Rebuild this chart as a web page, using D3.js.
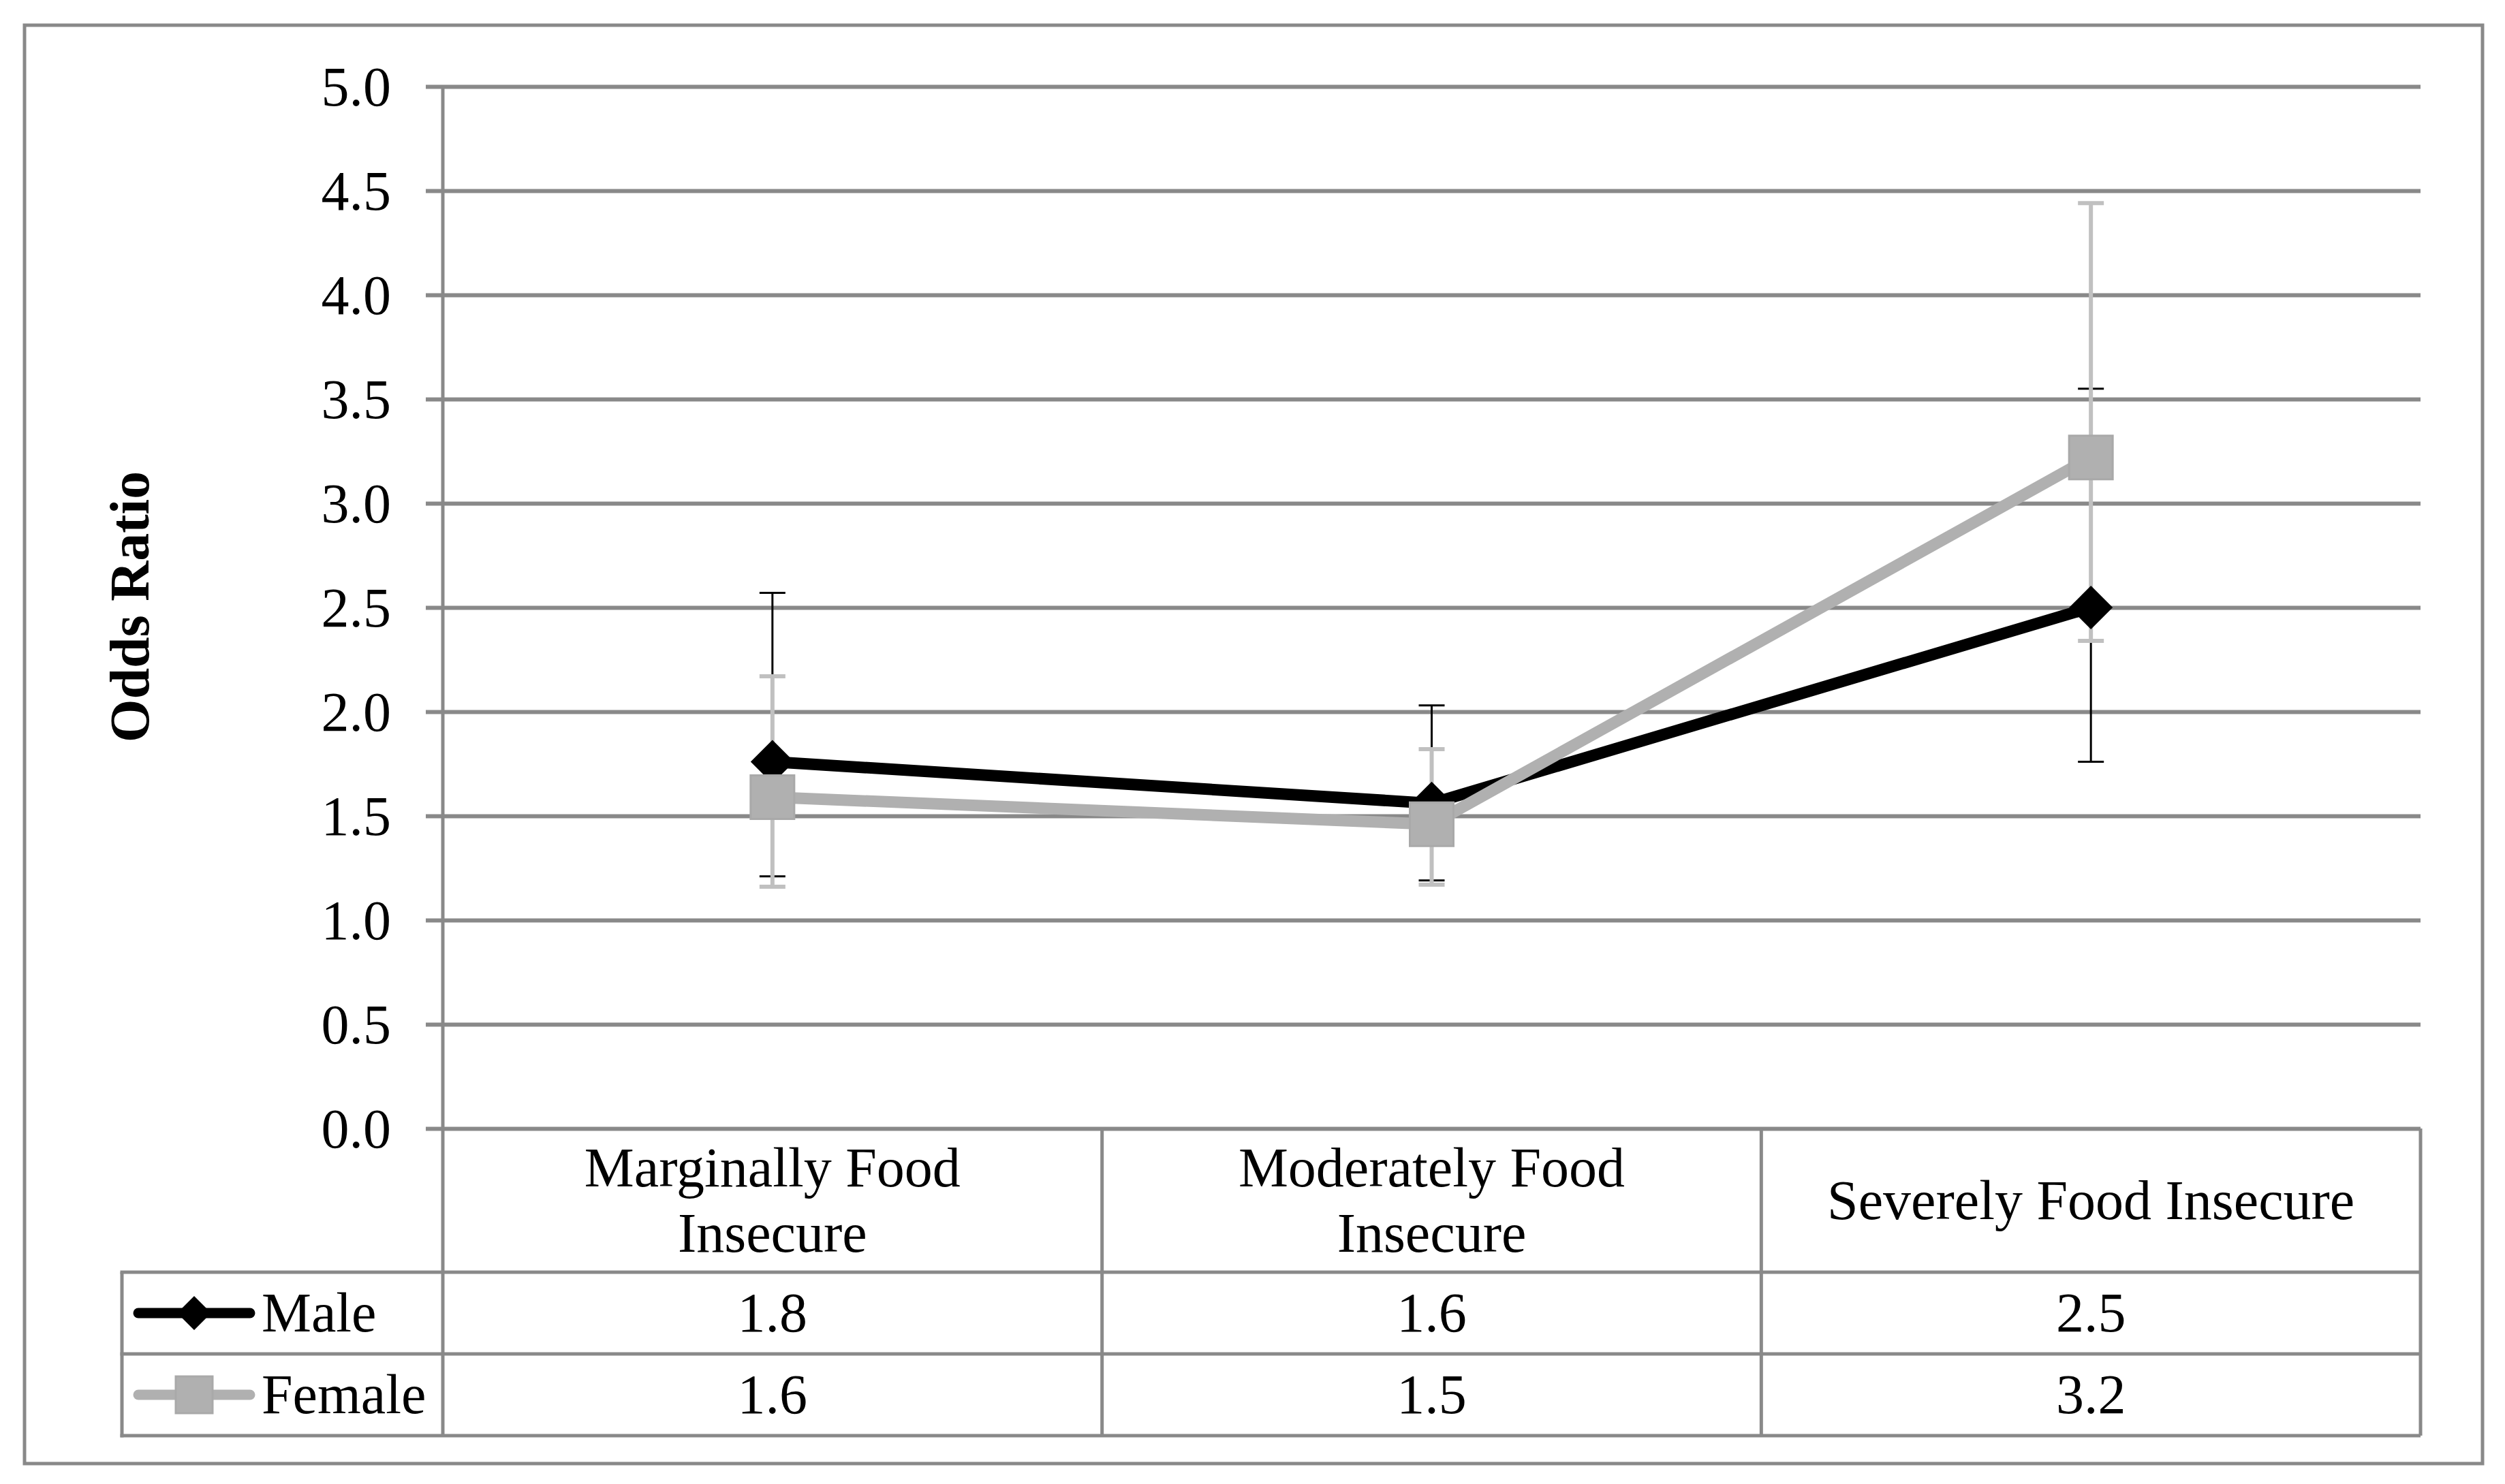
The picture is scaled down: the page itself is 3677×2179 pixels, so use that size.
<!DOCTYPE html>
<html lang="en">
<head>
    <meta charset="UTF-8">
    <script src="https://d3js.org/d3.v7.min.js"></script>
    <title>Odds Ratio by Food Insecurity</title>
    <style>
        body { margin: 0; background: #fff; }
        text { font-family: "Liberation Serif", "Times New Roman", serif; fill: #000; }
    </style>
</head>
<body>
    <script>
        // data
        var categories = ['Marginally Food Insecure', 'Moderately Food Insecure', 'Severely Food Insecure'];
        var categoryLines = [['Marginally Food', 'Insecure'], ['Moderately Food', 'Insecure'], ['Severely Food Insecure']];
        var seriesNames = ['Male', 'Female'];
        var maleValues = [1.76, 1.56, 2.50];
        var maleLower = [1.21, 1.19, 1.76];
        var maleUpper = [2.57, 2.03, 3.55];
        var femaleValues = [1.59, 1.46, 3.22];
        var femaleLower = [1.16, 1.17, 2.34];
        var femaleUpper = [2.17, 1.82, 4.44];
        var yTicks = [0, 0.5, 1, 1.5, 2, 2.5, 3, 3.5, 4, 4.5, 5];

        var svgWidth = 3677, svgHeight = 2179;
        var gridColor = '#898989';
        var fontSize = 82;

        var plotLeft = 650, plotRight = 3553, plotTop = 127, plotBottom = 1657;
        var tableLeft = 179;
        var rowBottoms = [1868, 1988, 2108];

        var series = [
            { name: seriesNames[0], values: maleValues, lower: maleLower, upper: maleUpper,
              color: '#000', errColor: '#000', errWidth: 3, symbol: 'diamond' },
            { name: seriesNames[1], values: femaleValues, lower: femaleLower, upper: femaleUpper,
              color: '#b0b0b0', errColor: '#c0c0c0', errWidth: 6, symbol: 'square' }
        ];

        var svg = d3.select('body')
            .append('svg')
            .attr('width', svgWidth)
            .attr('height', svgHeight);

        // outer chart border
        svg.append('rect')
            .attr('x', 36).attr('y', 37)
            .attr('width', 3644 - 36).attr('height', 2149 - 37)
            .attr('fill', 'none')
            .attr('stroke', gridColor)
            .attr('stroke-width', 5);

        var xScale = d3.scaleBand()
            .domain(categories)
            .range([plotLeft, plotRight])
            .padding(0);

        var yScale = d3.scaleLinear()
            .domain([0, 5])
            .range([plotBottom, plotTop]);

        var cx = function(i) {
            return xScale(categories[i]) + xScale.bandwidth() / 2;
        };

        // gridlines
        svg.append('g')
            .attr('transform', 'translate(' + plotLeft + ',0)')
            .call(d3.axisLeft(yScale).tickValues(yTicks).tickSize(-(plotRight - plotLeft)).tickFormat(''))
            .call(function(g) { g.select('.domain').remove(); })
            .selectAll('line')
            .attr('stroke', gridColor)
            .attr('stroke-width', 6);

        // tick stubs + labels
        var yAxis = svg.append('g')
            .attr('transform', 'translate(' + plotLeft + ',0)')
            .call(d3.axisLeft(yScale).tickValues(yTicks).tickSize(25).tickPadding(51).tickFormat(d3.format('.1f')));
        yAxis.select('.domain').remove();
        yAxis.selectAll('line').attr('stroke', gridColor).attr('stroke-width', 6);
        yAxis.selectAll('text')
            .attr('font-size', fontSize)
            .attr('font-family', '"Liberation Serif", serif')
            .attr('fill', '#000')
            .attr('dy', '0.34em');

        // axis title
        svg.append('text')
            .attr('transform', 'translate(218,' + 891 + ') rotate(-90)')
            .attr('text-anchor', 'middle')
            .attr('font-size', fontSize)
            .attr('font-weight', 'bold')
            .text('Odds Ratio');

        // data table lines
        var tbl = svg.append('g')
            .attr('stroke', gridColor)
            .attr('stroke-width', 5)
            .attr('fill', 'none');

        tbl.append('line')
            .attr('x1', plotLeft).attr('x2', plotLeft)
            .attr('y1', plotTop).attr('y2', rowBottoms[2]);

        tbl.selectAll('.hline')
            .data(rowBottoms)
            .enter()
            .append('line')
            .attr('x1', tableLeft - 2.5).attr('x2', plotRight)
            .attr('y1', function(d) { return d; })
            .attr('y2', function(d) { return d; });

        tbl.append('line')
            .attr('x1', tableLeft).attr('x2', tableLeft)
            .attr('y1', rowBottoms[0]).attr('y2', rowBottoms[2] + 2.5);

        tbl.selectAll('.vline')
            .data(categories)
            .enter()
            .append('line')
            .attr('x1', function(d) { return xScale(d) + xScale.bandwidth(); })
            .attr('x2', function(d) { return xScale(d) + xScale.bandwidth(); })
            .attr('y1', plotBottom)
            .attr('y2', rowBottoms[2]);

        // category header
        var headerMid = (plotBottom + rowBottoms[0]) / 2;
        categoryLines.forEach(function(lines, i) {
            var t = svg.append('text')
                .attr('text-anchor', 'middle')
                .attr('font-size', fontSize);
            lines.forEach(function(line, j) {
                t.append('tspan')
                    .attr('x', cx(i))
                    .attr('y', headerMid + (j - (lines.length - 1) / 2) * fontSize * 1.17 + fontSize * 0.33)
                    .text(line);
            });
        });

        var markerPath = function(s, size) {
            if (s.symbol === 'diamond') {
                return d3.symbol(d3.symbolSquare, size * size / 2)();
            }
            return d3.symbol(d3.symbolSquare, size * size)();
        };

        // error bars
        series.forEach(function(s) {
            var g = svg.append('g')
                .attr('stroke', s.errColor)
                .attr('stroke-width', s.errWidth);
            g.selectAll('.bar')
                .data(s.values)
                .enter()
                .append('line')
                .attr('x1', function(d, i) { return cx(i); })
                .attr('x2', function(d, i) { return cx(i); })
                .attr('y1', function(d, i) { return yScale(s.lower[i]); })
                .attr('y2', function(d, i) { return yScale(s.upper[i]); });
            [s.lower, s.upper].forEach(function(arr) {
                g.selectAll(null)
                    .data(arr)
                    .enter()
                    .append('line')
                    .attr('x1', function(d, i) { return cx(i) - 19; })
                    .attr('x2', function(d, i) { return cx(i) + 19; })
                    .attr('y1', function(d) { return yScale(d); })
                    .attr('y2', function(d) { return yScale(d); });
            });
        });

        // lines + markers
        var line = d3.line()
            .x(function(d, i) { return cx(i); })
            .y(function(d) { return yScale(d); });

        series.forEach(function(s) {
            svg.append('path')
                .datum(s.values)
                .attr('d', line)
                .attr('fill', 'none')
                .attr('stroke', s.color)
                .attr('stroke-width', 17)
                .attr('stroke-linejoin', 'round');

            svg.selectAll(null)
                .data(s.values)
                .enter()
                .append('path')
                .attr('d', markerPath(s, 64))
                .attr('transform', function(d, i) {
                    return 'translate(' + cx(i) + ',' + yScale(d) + ')' + (s.symbol === 'diamond' ? ' rotate(45)' : '');
                })
                .attr('fill', s.color)
                .attr('stroke', s.symbol === 'square' ? '#a9a9a9' : 'none')
                .attr('stroke-width', 3);
        });

        // table rows: legend keys + values
        var fmt = d3.format('.1f');
        series.forEach(function(s, k) {
            var top = rowBottoms[k], bottom = rowBottoms[k + 1];
            var mid = (top + bottom) / 2;

            svg.append('line')
                .attr('x1', 203).attr('x2', 367)
                .attr('y1', mid).attr('y2', mid)
                .attr('stroke', s.color)
                .attr('stroke-width', 15)
                .attr('stroke-linecap', 'round');

            svg.append('path')
                .attr('d', markerPath(s, s.symbol === 'diamond' ? 50 : 54))
                .attr('transform', 'translate(285,' + mid + ')' + (s.symbol === 'diamond' ? ' rotate(45)' : ''))
                .attr('fill', s.color)
                .attr('stroke', s.symbol === 'square' ? '#a9a9a9' : 'none')
                .attr('stroke-width', 3);

            svg.append('text')
                .attr('x', 384)
                .attr('y', mid + fontSize * 0.33)
                .attr('font-size', fontSize)
                .text(s.name);

            svg.selectAll(null)
                .data(s.values)
                .enter()
                .append('text')
                .attr('x', function(d, i) { return cx(i); })
                .attr('y', mid + fontSize * 0.33)
                .attr('text-anchor', 'middle')
                .attr('font-size', fontSize)
                .text(function(d) { return fmt(d); });
        });
    </script>
</body>
</html>
